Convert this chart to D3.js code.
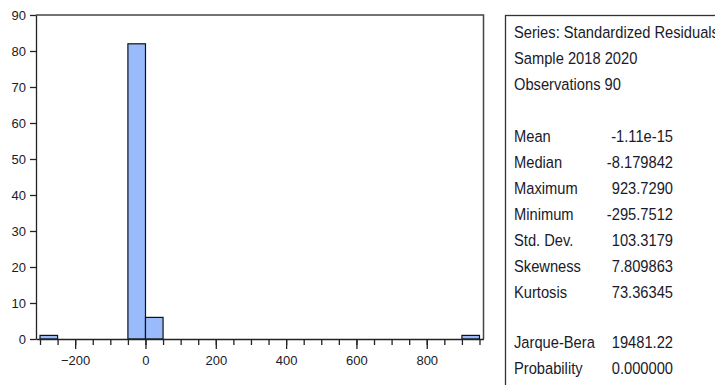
<!DOCTYPE html>
<html>
<head>
<meta charset="utf-8">
<script src="https://cdn.jsdelivr.net/npm/d3@7"></script>
<style>
  body { margin: 0; background: #fff; overflow: hidden; }
  text { fill: #1a1a2a; }
</style>
</head>
<body>
<div id="container"></div>
<script>
// histogram bins (lower edge, width 50) and counts
const binStarts = [-300, -50, 0, 900];
const binCounts = [1, 82, 6, 1];
const binWidth = 50;

const yTicks = [0, 10, 20, 30, 40, 50, 60, 70, 80, 90];
const xMajorTicks = [-200, 0, 200, 400, 600, 800];

const headerLines = ['Series: Standardized Residuals', 'Sample 2018 2020', 'Observations 90'];
const statLabels = ['Mean', 'Median', 'Maximum', 'Minimum', 'Std. Dev.', 'Skewness', 'Kurtosis'];
const statValues = ['-1.11e-15', '-8.179842', '923.7290', '-295.7512', '103.3179', '7.809863', '73.36345'];
const testLabels = ['Jarque-Bera', 'Probability'];
const testValues = ['19481.22', '0.000000'];

const w = 715;
const h = 385;

const svg = d3.select('#container').append('svg')
  .attr('width', w)
  .attr('height', h);

const x = d3.scaleLinear().domain([-311.4, 961.4]).range([36, 483.5]);
const y = d3.scaleLinear().domain([0, 90]).range([339, 15]);

const axisFont = '"Liberation Sans", Arial, sans-serif';
const panelFont = '"Liberation Sans", Arial, sans-serif';
const squeeze = 0.865; // panel text is a condensed face

// frame top and right
svg.append('path')
  .attr('d', `M${x.range()[0]},${y(90)}H${x.range()[1]}V${y(0)}`)
  .attr('fill', 'none')
  .attr('stroke', '#444')
  .attr('stroke-width', 1.5);

// bars
svg.append('g')
  .selectAll('rect')
  .data(binStarts.map((s, i) => ({ s, c: binCounts[i] })))
  .enter()
  .append('rect')
  .attr('x', d => x(d.s))
  .attr('width', d => x(d.s + binWidth) - x(d.s))
  .attr('y', d => y(d.c))
  .attr('height', d => y(0) - y(d.c))
  .attr('fill', '#99bbfb')
  .attr('stroke', '#111')
  .attr('stroke-width', 1.2);

// y axis
const yAxis = svg.append('g')
  .attr('transform', `translate(${x.range()[0]},0)`)
  .call(d3.axisLeft(y).tickValues(yTicks).tickSize(6).tickPadding(4).tickSizeOuter(0));
yAxis.selectAll('text').style('font', `13px ${axisFont}`).attr('fill', '#1a1a2a');

// x axis: minor ticks every 50, major labels every 200
const minorTicks = d3.range(-300, 951, 50);
svg.append('g')
  .attr('transform', `translate(0,${y(0)})`)
  .call(d3.axisBottom(x).tickValues(minorTicks).tickSize(6).tickFormat('').tickSizeOuter(0));
const xAxis = svg.append('g')
  .attr('transform', `translate(0,${y(0)})`)
  .call(d3.axisBottom(x).tickValues(xMajorTicks).tickSize(10).tickPadding(7));
xAxis.select('.domain').remove();
xAxis.selectAll('text').style('font', `13px ${axisFont}`).attr('fill', '#1a1a2a');
svg.selectAll('.domain, .tick line').attr('stroke', '#222').attr('stroke-width', 1.3);

// statistics panel
const panel = svg.append('g');
panel.append('rect')
  .attr('x', 505.5)
  .attr('y', 15.5)
  .attr('width', 260)
  .attr('height', 400)
  .attr('fill', '#fff')
  .attr('stroke', '#333')
  .attr('stroke-width', 1.3);

const rowY = d3.scaleLinear().domain([0, 1]).range([38, 64]);
const labelX = 514;
const valueX = 673;

function panelText(sel, xPos, anchor) {
  return sel.append('text')
    .attr('transform', `translate(${xPos},0) scale(${squeeze},1)`)
    .attr('text-anchor', anchor)
    .style('font', `17px ${panelFont}`);
}

const hdr = panel.selectAll('g.hdr')
  .data(headerLines)
  .enter()
  .append('g')
  .attr('class', 'hdr')
  .attr('transform', (d, i) => `translate(0,${rowY(i)})`);
panelText(hdr, labelX, 'start').text(d => d);

const statRows = statLabels.map((l, i) => ({ l, v: statValues[i], r: i + 4 }))
  .concat(testLabels.map((l, i) => ({ l, v: testValues[i], r: i + 12 })));

const rows = panel.selectAll('g.row')
  .data(statRows)
  .enter()
  .append('g')
  .attr('class', 'row')
  .attr('transform', d => `translate(0,${rowY(d.r) - (d.r >= 12 ? 2.5 : 0)})`);
panelText(rows, labelX, 'start').text(d => d.l);
panelText(rows, valueX, 'end').text(d => d.v);
</script>
</body>
</html>
